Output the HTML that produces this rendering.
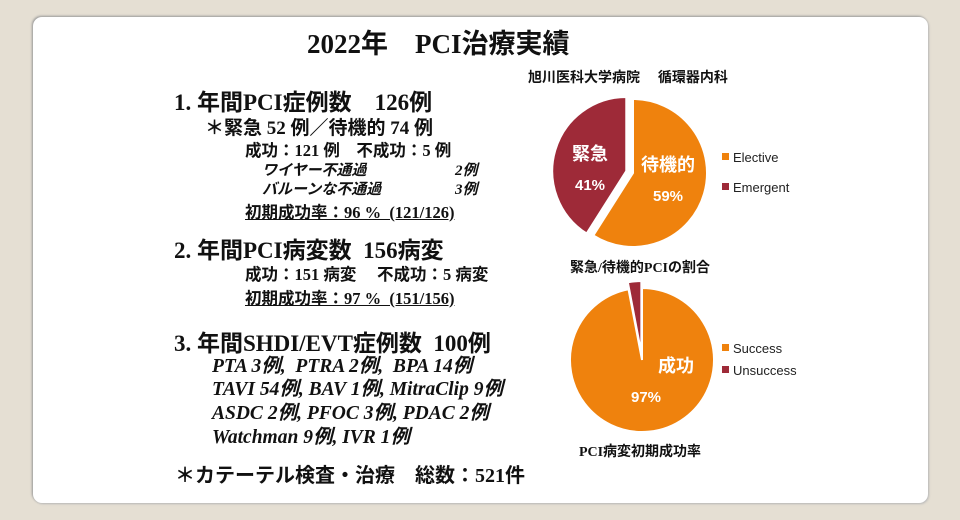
<!DOCTYPE html>
<html><head><meta charset="utf-8">
<style>
body{margin:0;width:960px;height:520px;background:#e5dfd3;position:relative;overflow:hidden;font-family:"Liberation Serif","Noto Sans CJK JP",serif;color:#111}
#card{position:absolute;left:33px;top:17px;width:895px;height:486px;background:#fff;border-radius:9px;box-shadow:-1px -1px 2px #999,1px 1px 2px #bbb}
.t{position:absolute;white-space:nowrap;font-weight:bold;line-height:1}
.i{font-style:italic}
.s{font-family:"Liberation Sans","Noto Sans CJK JP",sans-serif;font-weight:normal}
</style></head><body>
<div id="card"></div>
<div class="t" style="left:307px;top:31px;font-size:27px">2022年　PCI治療実績</div>
<div class="t s" style="left:528px;top:70px;font-size:14px;font-weight:bold">旭川医科大学病院　 循環器内科</div>

<div class="t" style="left:174px;top:91px;font-size:23px">1. 年間PCI症例数　126例</div>
<div class="t" style="left:205px;top:119px;font-size:19px">＊緊急 52 例／待機的 74 例</div>
<div class="t" style="left:245px;top:143px;font-size:16.5px">成功：121 例　不成功：5 例</div>
<div class="t i" style="left:262px;top:164px;font-size:15px">ワイヤー不通過</div>
<div class="t i" style="left:455px;top:164px;font-size:15px">2例</div>
<div class="t i" style="left:262px;top:183px;font-size:15px">バルーンな不通過</div>
<div class="t i" style="left:455px;top:183px;font-size:15px">3例</div>
<div class="t" style="left:245px;top:205px;font-size:16.5px;text-decoration:underline">初期成功率：96 %&nbsp; (121/126)</div>

<div class="t" style="left:174px;top:239px;font-size:23px">2. 年間PCI病変数&nbsp; 156病変</div>
<div class="t" style="left:245px;top:267px;font-size:16.5px">成功：151 病変　 不成功：5 病変</div>
<div class="t" style="left:245px;top:291px;font-size:16.5px;text-decoration:underline">初期成功率：97 %&nbsp; (151/156)</div>

<div class="t" style="left:174px;top:332px;font-size:23px">3. 年間SHDI/EVT症例数&nbsp; 100例</div>
<div class="t i" style="left:212px;top:357px;font-size:19.5px">PTA 3例,&nbsp; PTRA 2例,&nbsp; BPA 14例</div>
<div class="t i" style="left:212px;top:380px;font-size:19.5px">TAVI 54例, BAV 1例, MitraClip 9例</div>
<div class="t i" style="left:212px;top:404px;font-size:19.5px">ASDC 2例, PFOC 3例, PDAC 2例</div>
<div class="t i" style="left:212px;top:428px;font-size:19.5px">Watchman 9例, IVR 1例</div>
<div class="t" style="left:175px;top:466px;font-size:20px">＊カテーテル検査・治療　総数：521件</div>

<svg id="charts" width="960" height="520" style="position:absolute;left:0;top:0"></svg>

<script>
const pie1Labels=["Elective","Emergent"];
const pie1Values=[59,41];
const pie1Names=["待機的","緊急"];
const pie2Labels=["Success","Unsuccess"];
const pie2Values=[97,3];
const pie2Names=["成功",""];
const colors=["#ef820d","#9e2a38"];
const NS="http://www.w3.org/2000/svg";
const svg=document.getElementById('charts');
function mk(tag,attrs){const e=document.createElementNS(NS,tag);for(const k in attrs)e.setAttribute(k,attrs[k]);svg.appendChild(e);return e;}
function drawPie(cx,cy,r,values,names,labels,explodeIdx,startDeg,dir,legendX,legendY,legendGap,labelPos,id){
  const total=values.reduce((a,b)=>a+b,0);
  let a=startDeg;
  values.forEach((v,i)=>{
    const sweep=v/total*360*dir;
    const a0=a,a1=a+sweep;a=a1;
    const mid=(a0+a1)/2*Math.PI/180;
    const off=i===explodeIdx?7:0;
    const ox=cx+off*Math.sin(mid),oy=cy-off*Math.cos(mid);
    const p=(d)=>[ox+r*Math.sin(d*Math.PI/180),oy-r*Math.cos(d*Math.PI/180)];
    const [x0,y0]=p(a0),[x1,y1]=p(a1);
    const large=Math.abs(sweep)>180?1:0;
    const sw=dir>0?1:0;
    const path=mk('path',{d:`M${ox},${oy}L${x0},${y0}A${r},${r} 0 ${large} ${sw} ${x1},${y1}Z`,fill:colors[i],stroke:'#fff','stroke-width':2});
    
    
    if(names[i]){
      const lp=labelPos[i];
      const t1=mk('text',{x:lp[0],y:lp[1],'text-anchor':'middle',fill:'#fff','font-size':18,'font-weight':'bold','font-family':'"Liberation Sans","Noto Sans CJK JP",sans-serif'});
      t1.textContent=names[i];
      
      
      const t2=mk('text',{x:lp[0]+lp[2],y:lp[1]+30,'text-anchor':'middle',fill:'#fff','font-size':15,'font-weight':'bold','font-family':'"Liberation Sans",sans-serif'});
      t2.textContent=v+'%';
      
      
    }
    const ly=legendY+i*legendGap;
    const sq=mk('rect',{x:legendX,y:ly-4,width:7,height:7,fill:colors[i]});
    
    
    const lt=mk('text',{x:legendX+11,y:ly+5,'font-size':13,fill:'#222','font-family':'"Liberation Sans",sans-serif'});
    lt.textContent=labels[i];
    
    
  });
}
drawPie(633,173,74,pie1Values,pie1Names,pie1Labels,1,0,1,722,157,30,[[668,171,0],[590,160,0]],'pie1');
drawPie(642,360,72,pie2Values,pie2Names,pie2Labels,1,0,1,722,348,22,[[676,372,-30],[0,0,0]],'pie2');
const c1=mk('text',{x:640,y:272,'text-anchor':'middle','font-size':14,'font-weight':'bold',fill:'#111','font-family':'"Liberation Serif","Noto Sans CJK JP",serif'});
c1.textContent='緊急/待機的PCIの割合';


const c2=mk('text',{x:640,y:456,'text-anchor':'middle','font-size':14,'font-weight':'bold',fill:'#111','font-family':'"Liberation Serif","Noto Sans CJK JP",serif'});
c2.textContent='PCI病変初期成功率';


</script>
</body></html>
